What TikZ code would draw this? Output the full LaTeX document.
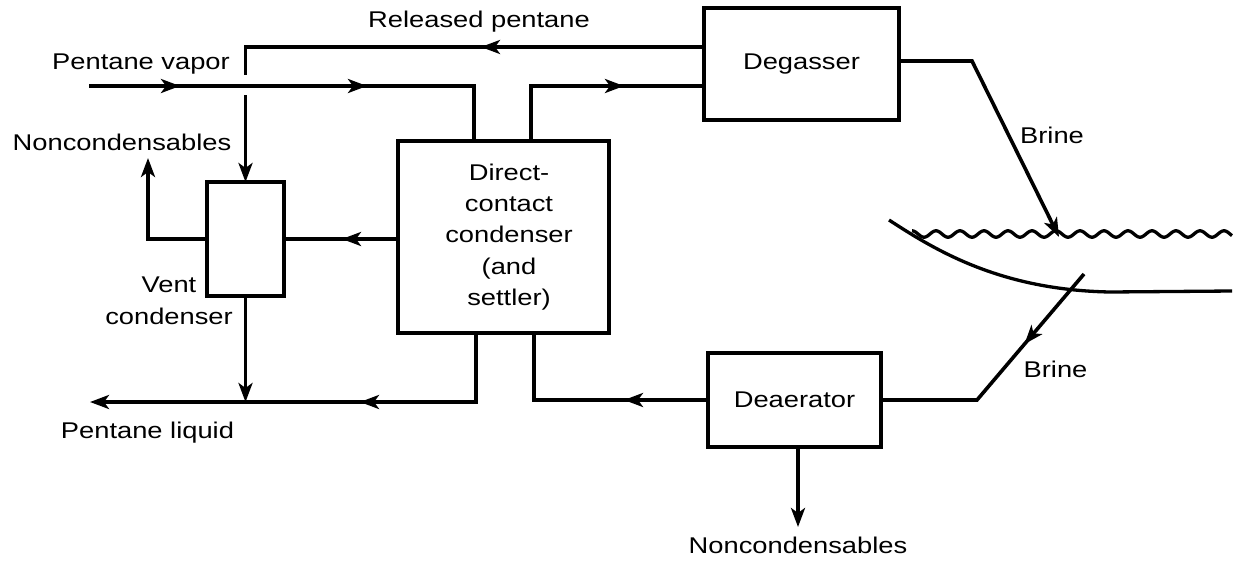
\documentclass[tikz,border=0pt]{standalone}
\usepackage{fontspec}
\setmainfont[FakeStretch=1.2]{Liberation Sans}
\usetikzlibrary{arrows.meta,decorations.markings,calc}
\begin{document}
\begin{tikzpicture}[x=1pt,y=-1pt,
  line width=3.6pt,
  box/.style={draw,line width=4pt,rectangle,inner sep=0pt,outer sep=0pt},
  txt/.style={font=\fontsize{22.75}{31.3}\selectfont,inner sep=0pt},
  lbl/.style={txt,anchor=base},
  tip/.style={-{Stealth[length=19pt,width=14pt,inset=5pt]}},
  marr/.style={postaction={decorate,decoration={markings,mark=at position #1 with {\arrow{Stealth[length=19pt,width=14pt,inset=5pt]}}}}},
]
\useasboundingbox (0,0) rectangle (1233,565);

% nodes
\node[box,minimum width=211pt,minimum height=192pt] (dcc) at (503.5,237) {};
\node[txt,align=center] (dcct) at (509,237) {Direct-\\contact\\condenser\\(and\\settler)};
\node[box,minimum width=77pt,minimum height=114pt] (vent) at (245.5,239) {};
\node[box,txt,minimum width=195pt,minimum height=112pt] (deg) at (801.5,64) {Degasser};
\node[box,txt,minimum width=173pt,minimum height=94pt] (dea) at (794.5,400) {Deaerator};

% labels
\node[lbl] (lrp) at (479,27) {Released pentane};
\node[lbl] (lpv) at (141,69) {Pentane vapor};
\node[lbl] (lnc1) at (122,150) {Noncondensables};
\node[txt,align=center] (lvc) at (169,300.8) {Vent\\condenser};
\node[lbl] (lpl) at (147.5,438) {Pentane liquid};
\node[lbl] (lb1) at (1052,143) {Brine};
\node[lbl] (lb2) at (1055.5,377) {Brine};
\node[lbl] (lnc2) at (798,553) {Noncondensables};

% helper coordinates
\coordinate (yRP) at (0,47);
\coordinate (yJ) at (0,95);
\coordinate (pv) at (89,86);
\coordinate (dccA) at ($(dcc.north west)+(76,0)$);
\coordinate (dccB) at ($(dcc.north west)+(133,0)$);
\coordinate (dccC) at ($(dcc.south west)+(78,0)$);
\coordinate (dccD) at ($(dcc.south west)+(136,0)$);
\coordinate (degc) at (972,61);
\coordinate (wavein) at (1059,237);
\coordinate (nc1) at (148,158);
\coordinate (pl) at (90,402);
\coordinate (br1) at (1084,274);
\coordinate (br2) at (977,400);
\coordinate (nc2) at (798,527);

% connectors
\draw[marr=223pt] (deg.west |- yRP) -- (vent.north |- yRP) -- ++(0,28);
\draw[tip] (vent.north |- yJ) -- (vent.north);
\draw[marr=91pt,marr=278pt] (pv) -- (pv -| dccA) -- (dccA);
\draw[marr=148pt] (dccB) -- (dccB |- pv) -- (deg.west |- pv);
\draw[tip] (deg.east |- degc) -- (degc) -- (wavein);
\draw[tip] (vent.west) -- (vent.west -| nc1) -- (nc1);
\draw[marr=56pt] (dcc.west |- vent.east) -- (vent.east);
\draw[marr=185pt,tip] (dccC) -- (dccC |- pl) -- (pl);
\draw[tip] (vent.south) -- (vent.south |- pl);
\draw[marr=84pt] (dea.west) -- (dea.west -| dccD) -- (dccD);
\draw[marr=92pt] (br1) -- (br2) -- (dea.east);
\draw[tip] (nc2 |- dea.south) -- (nc2);

% basin
\draw[line width=3.3pt] (889,220) .. controls (935,250) and (1000,290) .. (1110,292) -- (1232,291);
\draw[line width=3.3pt,line join=round] plot[domain=912:1232,samples=300] (\x,{234+3.2*sin((\x-912)/24*360-90)});
\end{tikzpicture}
\end{document}
